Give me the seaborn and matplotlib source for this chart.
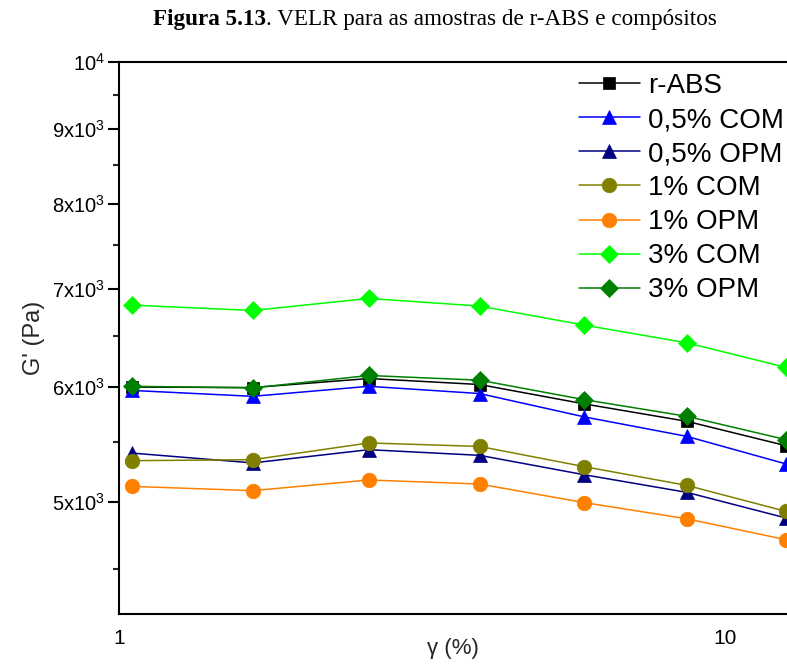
import matplotlib
matplotlib.use("Agg")
import matplotlib.pyplot as plt
import matplotlib.ticker as mticker
from matplotlib.offsetbox import TextArea, HPacker, AnchoredOffsetbox
import seaborn as sns
import pandas as pd

sns.set_theme(style="white")
plt.rcParams['font.family'] = ['Liberation Sans', 'DejaVu Sans']
plt.rcParams['mathtext.default'] = 'regular'

# ---- data ----
strain = [1.05, 1.66, 2.58, 3.93, 5.85, 8.64, 12.6]
series_names = ["r-ABS", "0,5% COM", "0,5% OPM", "1% COM", "1% OPM", "3% COM", "3% OPM"]
r_abs    = [5995, 5990, 6076, 6019, 5838, 5680, 5466]
com_05   = [5963, 5908, 6002, 5934, 5720, 5547, 5311]
opm_05   = [5403, 5320, 5432, 5384, 5222, 5079, 4878]
com_1    = [5339, 5347, 5490, 5460, 5289, 5135, 4929]
opm_1    = [5127, 5093, 5179, 5146, 4998, 4872, 4714]
com_3    = [6820, 6763, 6892, 6810, 6609, 6427, 6183]
opm_3    = [6002, 5987, 6105, 6060, 5877, 5725, 5518]
values = [r_abs, com_05, opm_05, com_1, opm_1, com_3, opm_3]

y_ticks = [5000, 6000, 7000, 8000, 9000, 10000]
y_tick_labels = ["5x10$^3$", "6x10$^3$", "7x10$^3$", "8x10$^3$", "9x10$^3$", "10$^4$"]
x_ticks = [1, 10]
x_tick_labels = ["1", "10"]

colors = ["#000000", "#0000FF", "#000080", "#808000", "#FF8000", "#00FF00", "#008000"]
markers = ["s", "^", "^", "o", "o", "D", "D"]
msizes = [8, 10, 10, 10.5, 10.5, 9, 9]

rows = []
for name, vals in zip(series_names, values):
    for xv, yv in zip(strain, vals):
        rows.append({"strain": xv, "G": yv, "sample": name})
df = pd.DataFrame(rows)

fig = plt.figure(figsize=(7.87, 6.64), dpi=100)
ax = fig.add_axes([119.3 / 787, 1 - 613.7 / 664, 1 - 119.3 / 787, (613.7 - 62) / 664])

for name, c, m, ms in zip(series_names, colors, markers, msizes):
    sub = df[df["sample"] == name]
    sns.lineplot(data=sub, x="strain", y="G", ax=ax, color=c, marker=m,
                 markersize=ms, markeredgecolor=c, markeredgewidth=0.5,
                 linewidth=1.1, label=name, estimator=None, sort=False)

ax.set_xscale("log")
ax.set_yscale("log")
ax.set_xlim(1, 12.64)
ax.set_ylim(4196, 10000)

ax.yaxis.set_major_locator(mticker.FixedLocator(y_ticks))
ax.yaxis.set_major_formatter(mticker.FixedFormatter(y_tick_labels))
ax.yaxis.set_minor_locator(mticker.FixedLocator([4500, 5500, 6500, 7500, 8500, 9500]))
ax.yaxis.set_minor_formatter(mticker.NullFormatter())
ax.xaxis.set_major_locator(mticker.FixedLocator(x_ticks))
ax.xaxis.set_major_formatter(mticker.FixedFormatter(x_tick_labels))
ax.xaxis.set_minor_locator(mticker.FixedLocator([2, 3, 4, 5, 6, 7, 8, 9]))
ax.xaxis.set_minor_formatter(mticker.NullFormatter())

for side in ["left", "bottom", "top"]:
    ax.spines[side].set_visible(True)
    ax.spines[side].set_color("black")
    ax.spines[side].set_linewidth(1.5)
ax.spines["right"].set_visible(False)

ax.tick_params(axis="both", which="major", direction="out", length=8, width=1.5,
               labelsize=14.5, colors="black", pad=2)
ax.tick_params(axis="both", which="minor", direction="out", length=4.5, width=1.5)
ax.tick_params(axis="x", which="both", top=False, labeltop=False)
ax.tick_params(axis="x", which="major", labelsize=15, pad=3)
ax.tick_params(axis="y", which="both", left=True)

ax.set_xlabel("γ (%)", fontsize=16, labelpad=-7)
ax.set_ylabel("G' (Pa)", fontsize=17, labelpad=5)

leg = ax.legend(loc="upper right", bbox_to_anchor=(1.0, 0.985), frameon=False,
                fontsize=20, handlelength=2.2, handletextpad=0.3,
                labelspacing=0.29, borderaxespad=0.1, borderpad=0)
for t in leg.get_texts():
    t.set_color("black")

# title: bold part + normal part
ta1 = TextArea("Figura 5.13", textprops=dict(family="Liberation Serif", fontsize=16.7,
                                            fontweight="bold", color="black"))
ta2 = TextArea(". VELR para as amostras de r-ABS e compósitos",
               textprops=dict(family="Liberation Serif", fontsize=16.7, color="black"))
box = HPacker(children=[ta1, ta2], align="baseline", pad=0, sep=0)
anch = AnchoredOffsetbox(loc="center", child=box, frameon=False,
                         bbox_to_anchor=(435 / 787, 1 - 19 / 664),
                         bbox_transform=fig.transFigure, borderpad=0, pad=0)
fig.add_artist(anch)

fig.savefig("out.png", dpi=100)
